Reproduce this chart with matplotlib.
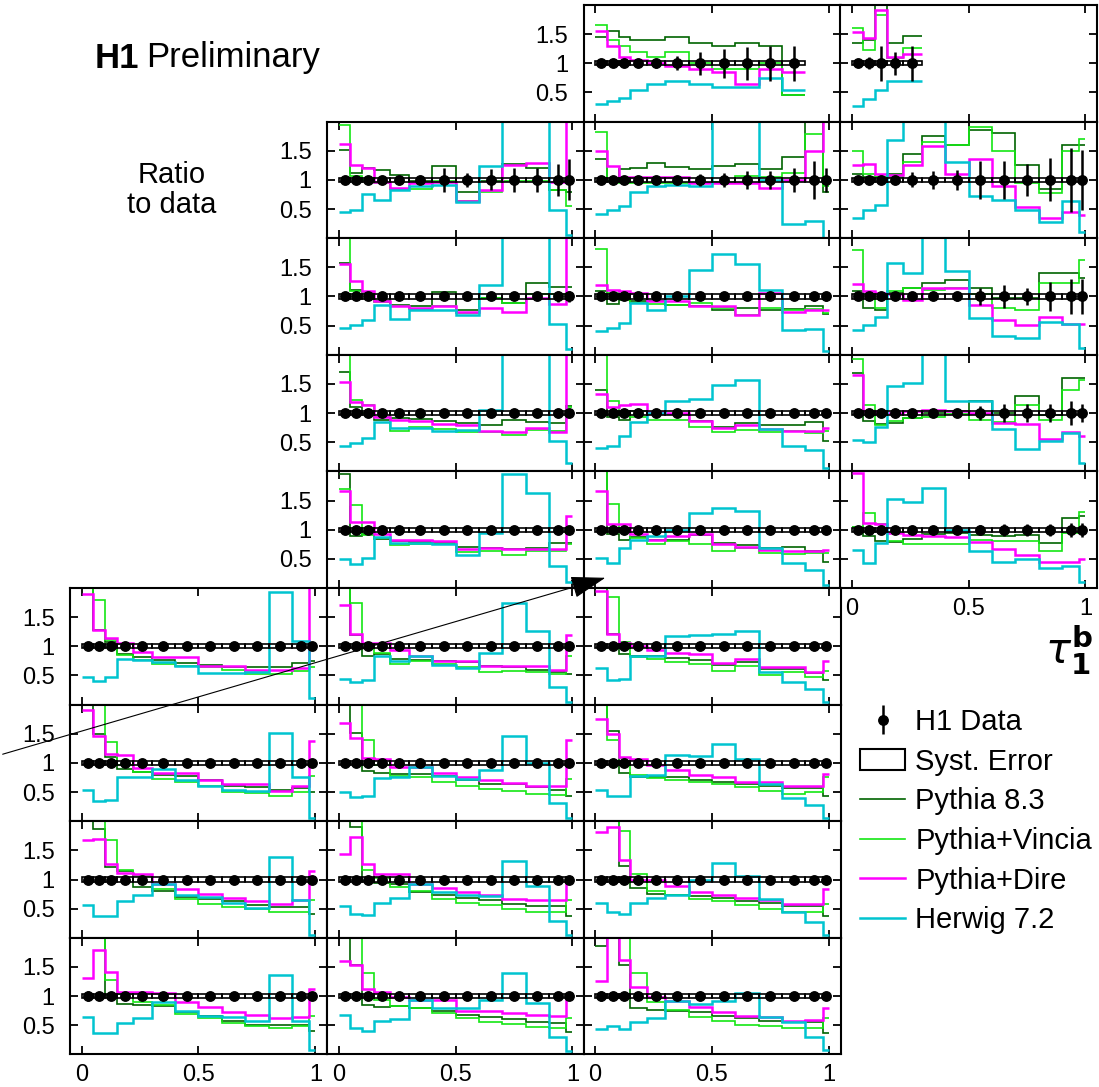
import matplotlib
matplotlib.use("Agg")
import matplotlib.pyplot as plt
from matplotlib.lines import Line2D
from matplotlib.patches import Patch, Rectangle, FancyArrowPatch

plt.rcParams['font.family'] = ['Liberation Sans', 'DejaVu Sans']

# bin edges in tau_1^b (same for every panel)
edges = [0, 0.05, 0.1, 0.15, 0.22, 0.3, 0.4, 0.5, 0.6, 0.7, 0.8, 0.9, 0.975, 1.0]
centers = [0.025, 0.075, 0.125, 0.185, 0.26, 0.35, 0.45, 0.55, 0.65, 0.75, 0.85, 0.9375, 0.9875]

# ratio MC / data for each panel: pNM = row N, column M
p13_err = [0.03, 0.03, 0.04, 0.05, 0.08, 0.12, 0.2, 0.25, 0.28, 0.3, 0.3]
p13_py8 = [1.45, 1.55, 1.45, 1.4, 1.4, 1.45, 1.35, 1.3, 1.35, 1.3, 0.45]
p13_vin = [1.65, 1.4, 1.3, 1.2, 1.1, 1.2, 1.0, 0.9, 0.9, 1.0, 0.45]
p13_dire = [1.55, 1.3, 1.1, 1.05, 1.0, 0.95, 0.9, 0.85, 0.65, 0.9, 0.85]
p13_hw = [0.3, 0.35, 0.4, 0.55, 0.65, 0.7, 0.65, 0.6, 0.6, 0.75, 0.55]

p14_err = [0.05, 0.1, 0.3, 0.2, 0.3]
p14_py8 = [1.34, 1.4, 2.3, 1.34, 1.46]
p14_vin = [1.6, 1.23, 1.83, 1.09, 1.26]
p14_dire = [1.53, 1.43, 1.91, 1.11, 1.16]
p14_hw = [0.26, 0.39, 0.54, 0.7, 0.7]

p22_err = [0.02, 0.02, 0.02, 0.03, 0.04, 0.05, 0.2, 0.12, 0.18, 0.2, 0.2, 0.28, 0.35]
p22_py8 = [1.52, 1.12, 1.2, 1.17, 1.09, 0.98, 1.23, 0.79, 0.98, 1.28, 1.2, 0.82, 0.8]
p22_vin = [1.95, 1.06, 1.0, 0.95, 0.85, 0.85, 0.98, 0.63, 0.79, 0.98, 0.98, 0.82, 0.55]
p22_dire = [1.62, 1.25, 1.2, 0.96, 0.86, 0.94, 0.96, 0.63, 0.83, 1.26, 1.29, 0.96, 2.3]
p22_hw = [0.45, 0.49, 0.75, 0.66, 0.82, 0.9, 0.92, 0.62, 1.23, 2.3, 2.3, 0.49, 0.05]

p23_err = [0.02, 0.02, 0.02, 0.03, 0.04, 0.06, 0.1, 0.12, 0.15, 0.15, 0.2, 0.33, 0.2]
p23_py8 = [1.36, 0.98, 1.19, 1.2, 1.29, 1.22, 1.19, 1.24, 1.27, 1.19, 1.4, 2.3, 0.8]
p23_vin = [1.83, 0.98, 0.95, 0.95, 0.95, 0.95, 0.95, 0.97, 1.06, 1.05, 1.12, 1.78, 0.9]
p23_dire = [1.5, 1.23, 1.05, 1.05, 1.05, 1.05, 0.95, 0.95, 0.95, 0.86, 1.0, 1.49, 2.3]
p23_hw = [0.41, 0.48, 0.55, 0.8, 0.89, 0.92, 0.9, 2.3, 2.3, 1.0, 0.25, 0.3, 0.0]

p24_err = [0.03, 0.04, 0.05, 0.06, 0.13, 0.15, 0.17, 0.33, 0.33, 0.27, 0.37, 0.55, 0.52]
p24_py8 = [1.1, 1.05, 1.05, 1.1, 1.45, 1.75, 1.6, 1.85, 1.8, 1.25, 0.85, 1.6, 1.6]
p24_vin = [1.5, 1.1, 1.05, 1.05, 1.3, 1.65, 1.6, 1.9, 1.5, 0.95, 0.78, 1.5, 1.7]
p24_dire = [1.26, 1.28, 1.1, 1.08, 1.26, 1.58, 1.1, 1.35, 0.9, 0.53, 0.35, 0.45, 0.4]
p24_hw = [0.35, 0.48, 0.57, 1.68, 2.3, 2.3, 1.3, 0.72, 0.66, 0.48, 0.27, 0.64, 0.1]

p32_err = [0.02, 0.02, 0.02, 0.02, 0.02, 0.03, 0.03, 0.03, 0.04, 0.05, 0.06, 0.1, 0.1]
p32_py8 = [1.57, 1.11, 1.07, 0.93, 0.86, 0.83, 1.07, 0.76, 0.97, 0.89, 1.24, 1.17, 1.17]
p32_vin = [2.3, 1.09, 1.06, 0.91, 0.83, 0.79, 0.83, 0.72, 0.97, 0.89, 1.05, 1.05, 1.0]
p32_dire = [1.55, 1.27, 1.09, 0.93, 0.83, 0.81, 0.84, 0.74, 0.8, 0.73, 0.97, 0.87, 2.3]
p32_hw = [0.46, 0.51, 0.6, 0.86, 0.62, 0.77, 0.77, 0.69, 1.2, 2.3, 2.3, 0.52, 0.1]

p33_err = [0.02, 0.02, 0.02, 0.02, 0.02, 0.02, 0.03, 0.03, 0.03, 0.04, 0.04, 0.08, 0.08]
p33_py8 = [1.09, 0.87, 0.94, 0.93, 0.93, 0.86, 0.83, 0.77, 0.81, 0.76, 0.79, 0.83, 0.7]
p33_vin = [1.82, 1.06, 1.03, 0.89, 0.87, 0.86, 0.89, 0.8, 0.69, 0.8, 0.77, 0.79, 0.72]
p33_dire = [1.2, 1.11, 1.09, 1.06, 0.93, 0.93, 0.83, 0.83, 0.69, 1.06, 0.74, 0.77, 0.77]
p33_hw = [0.4, 0.46, 0.55, 0.89, 0.76, 1.0, 1.45, 1.73, 1.55, 1.11, 0.43, 0.45, 0.06]

p34_err = [0.02, 0.02, 0.03, 0.04, 0.05, 0.06, 0.08, 0.15, 0.2, 0.15, 0.25, 0.3, 0.3]
p34_py8 = [1.09, 0.81, 0.76, 1.06, 1.14, 1.23, 1.28, 1.14, 0.97, 0.97, 1.4, 1.41, 1.31]
p34_vin = [1.8, 1.03, 0.8, 1.09, 1.14, 1.11, 1.14, 1.04, 0.8, 0.76, 1.23, 1.23, 1.63]
p34_dire = [1.21, 1.1, 1.06, 1.04, 0.94, 1.15, 1.14, 0.86, 0.6, 0.51, 0.64, 0.52, 0.52]
p34_hw = [0.42, 0.51, 0.64, 1.57, 1.4, 2.3, 1.43, 0.63, 0.32, 0.29, 0.57, 0.52, 0.12]

p42_err = [0.02, 0.02, 0.02, 0.02, 0.02, 0.02, 0.02, 0.02, 0.03, 0.03, 0.03, 0.05, 0.05]
p42_py8 = [1.71, 1.11, 1.0, 0.89, 0.92, 0.9, 0.87, 0.83, 0.79, 0.89, 0.85, 0.83, 1.13]
p42_vin = [2.3, 1.23, 1.14, 0.94, 0.7, 0.76, 0.73, 0.67, 0.67, 0.63, 0.71, 0.69, 1.1]
p42_dire = [1.53, 1.19, 1.14, 0.94, 0.89, 0.86, 0.81, 0.79, 0.7, 0.67, 0.74, 0.67, 2.3]
p42_hw = [0.43, 0.48, 0.58, 0.84, 0.75, 0.75, 0.7, 0.71, 1.06, 2.3, 2.3, 0.52, 0.14]

p43_err = [0.02, 0.02, 0.02, 0.02, 0.02, 0.02, 0.02, 0.02, 0.03, 0.05, 0.05, 0.06, 0.06]
p43_py8 = [1.4, 0.94, 0.89, 1.03, 0.98, 0.98, 0.86, 0.77, 0.83, 0.8, 0.79, 0.85, 0.52]
p43_vin = [2.3, 1.21, 0.97, 0.94, 0.89, 0.89, 0.77, 0.67, 0.71, 0.68, 0.7, 0.66, 0.7]
p43_dire = [1.32, 1.11, 1.14, 1.16, 1.02, 1.0, 0.87, 0.75, 0.8, 0.73, 0.7, 0.7, 0.75]
p43_hw = [0.4, 0.44, 0.6, 0.84, 1.0, 1.2, 1.24, 1.48, 1.57, 0.73, 0.44, 0.37, 0.05]

p44_err = [0.02, 0.02, 0.03, 0.03, 0.04, 0.05, 0.06, 0.12, 0.15, 0.15, 0.15, 0.2, 0.15]
p44_py8 = [1.69, 0.87, 0.81, 0.83, 0.92, 1.0, 1.03, 1.2, 1.0, 1.29, 0.97, 1.61, 1.61]
p44_vin = [1.92, 1.14, 0.8, 0.86, 0.92, 0.94, 0.98, 0.89, 0.84, 1.14, 0.89, 1.4, 1.56]
p44_dire = [1.65, 1.04, 1.0, 1.0, 1.04, 1.06, 1.04, 1.0, 0.83, 0.81, 0.55, 0.68, 0.6]
p44_hw = [0.54, 0.5, 0.77, 1.47, 1.52, 2.3, 1.2, 1.2, 0.73, 0.38, 0.52, 0.66, 0.14]

p52_err = [0.02, 0.02, 0.02, 0.02, 0.02, 0.02, 0.02, 0.02, 0.02, 0.02, 0.03, 0.03, 0.04]
p52_py8 = [1.95, 0.89, 0.93, 0.84, 0.81, 0.79, 0.77, 0.71, 0.68, 0.67, 0.68, 0.77, 0.77]
p52_vin = [1.69, 1.42, 0.91, 0.86, 0.73, 0.75, 0.75, 0.62, 0.63, 0.57, 0.63, 0.63, 0.75]
p52_dire = [1.67, 1.14, 1.13, 0.93, 0.83, 0.83, 0.81, 0.67, 0.68, 0.67, 0.67, 0.67, 1.23]
p52_hw = [0.5, 0.41, 0.52, 0.87, 0.77, 0.77, 0.75, 0.57, 0.94, 1.96, 1.63, 0.37, 0.11]

p53_err = [0.02, 0.02, 0.02, 0.02, 0.02, 0.02, 0.02, 0.02, 0.02, 0.02, 0.03, 0.04, 0.04]
p53_py8 = [2.3, 0.93, 0.83, 0.87, 0.83, 0.83, 0.91, 0.77, 0.74, 0.68, 0.71, 0.64, 0.45]
p53_vin = [2.3, 1.44, 1.03, 0.86, 0.75, 0.8, 0.75, 0.64, 0.68, 0.6, 0.58, 0.6, 0.6]
p53_dire = [1.66, 1.09, 1.1, 0.93, 0.83, 0.9, 0.93, 0.75, 0.71, 0.66, 0.63, 0.63, 0.66]
p53_hw = [0.51, 0.43, 0.68, 0.83, 0.9, 1.0, 1.29, 1.38, 1.32, 0.68, 0.43, 0.31, 0.05]

p54_err = [0.06, 0.02, 0.02, 0.03, 0.03, 0.04, 0.05, 0.08, 0.1, 0.1, 0.1, 0.12, 0.12]
p54_py8 = [1.05, 0.89, 0.81, 0.79, 0.84, 0.93, 0.94, 0.91, 0.89, 0.91, 0.77, 1.2, 1.23]
p54_vin = [1.05, 1.29, 1.09, 0.8, 0.75, 0.75, 0.75, 0.83, 0.8, 0.81, 0.63, 0.94, 1.3]
p54_dire = [1.97, 1.11, 1.09, 0.94, 0.91, 0.89, 0.87, 0.79, 0.67, 0.57, 0.44, 0.45, 0.5]
p54_hw = [0.66, 0.43, 0.77, 1.52, 1.48, 1.71, 1.0, 0.63, 0.45, 0.5, 0.34, 0.37, 0.11]

p61_err = [0.03, 0.02, 0.02, 0.02, 0.02, 0.02, 0.02, 0.02, 0.02, 0.02, 0.02, 0.02, 0.03]
p61_py8 = [2.3, 1.28, 1.07, 0.86, 0.81, 0.77, 0.71, 0.68, 0.64, 0.64, 0.65, 0.72, 0.75]
p61_vin = [2.3, 1.79, 1.1, 0.85, 0.77, 0.69, 0.66, 0.65, 0.59, 0.53, 0.53, 0.58, 0.65]
p61_dire = [1.9, 1.28, 1.15, 1.06, 0.9, 0.82, 0.81, 0.66, 0.66, 0.6, 0.6, 0.62, 2.3]
p61_hw = [0.47, 0.4, 0.47, 0.79, 0.77, 0.73, 0.66, 0.55, 0.55, 0.56, 1.93, 1.09, 0.11]

p62_err = [0.03, 0.02, 0.02, 0.02, 0.02, 0.02, 0.02, 0.02, 0.02, 0.02, 0.02, 0.02, 0.03]
p62_py8 = [2.3, 1.2, 0.84, 0.86, 0.79, 0.77, 0.75, 0.73, 0.66, 0.64, 0.6, 0.56, 0.52]
p62_vin = [2.3, 1.75, 0.97, 0.89, 0.7, 0.75, 0.7, 0.64, 0.56, 0.58, 0.56, 0.52, 0.83]
p62_dire = [1.71, 1.21, 1.06, 1.06, 0.94, 0.83, 0.75, 0.75, 0.67, 0.67, 0.66, 0.6, 1.19]
p62_hw = [0.44, 0.39, 0.43, 0.84, 0.74, 0.83, 0.68, 0.63, 0.89, 1.75, 1.26, 0.31, 0.05]

p63_err = [0.03, 0.02, 0.02, 0.02, 0.02, 0.02, 0.02, 0.02, 0.02, 0.02, 0.02, 0.02, 0.03]
p63_py8 = [2.3, 1.21, 0.86, 0.84, 0.83, 0.8, 0.77, 0.68, 0.73, 0.61, 0.61, 0.54, 0.43]
p63_vin = [2.3, 1.84, 1.07, 0.81, 0.79, 0.73, 0.7, 0.58, 0.66, 0.51, 0.56, 0.48, 0.57]
p63_dire = [1.95, 1.21, 1.06, 1.0, 0.94, 0.89, 0.86, 0.71, 0.79, 0.64, 0.64, 0.56, 0.75]
p63_hw = [0.63, 0.43, 0.44, 0.84, 0.83, 1.17, 1.2, 1.21, 1.26, 0.56, 0.39, 0.27, 0.05]

p71_err = [0.03, 0.02, 0.02, 0.02, 0.02, 0.02, 0.02, 0.02, 0.02, 0.02, 0.02, 0.02, 0.03]
p71_py8 = [2.3, 1.49, 1.1, 0.9, 0.84, 0.8, 0.77, 0.7, 0.61, 0.59, 0.54, 0.57, 0.5]
p71_vin = [2.3, 2.3, 1.36, 0.96, 0.84, 0.73, 0.67, 0.6, 0.5, 0.48, 0.43, 0.5, 0.77]
p71_dire = [1.91, 1.46, 1.16, 1.13, 0.92, 0.83, 0.83, 0.71, 0.64, 0.63, 0.52, 0.6, 1.38]
p71_hw = [0.54, 0.34, 0.37, 0.75, 0.76, 0.89, 0.7, 0.61, 0.53, 0.52, 1.51, 0.76, 0.06]

p72_err = [0.03, 0.02, 0.02, 0.02, 0.02, 0.02, 0.02, 0.02, 0.02, 0.02, 0.02, 0.02, 0.03]
p72_py8 = [2.3, 1.52, 0.86, 0.83, 0.81, 0.81, 0.77, 0.7, 0.64, 0.63, 0.58, 0.54, 0.44]
p72_vin = [2.3, 2.3, 1.39, 0.97, 0.77, 0.75, 0.68, 0.6, 0.56, 0.52, 0.47, 0.45, 0.72]
p72_dire = [1.69, 1.42, 1.09, 1.07, 0.93, 0.93, 0.83, 0.75, 0.7, 0.66, 0.61, 0.6, 1.4]
p72_hw = [0.5, 0.41, 0.43, 0.74, 0.75, 0.93, 0.77, 0.73, 0.87, 1.46, 1.0, 0.31, 0.05]

p73_err = [0.03, 0.02, 0.02, 0.02, 0.02, 0.02, 0.02, 0.02, 0.02, 0.02, 0.02, 0.02, 0.03]
p73_py8 = [2.3, 1.55, 0.83, 0.75, 0.75, 0.75, 0.71, 0.68, 0.64, 0.6, 0.57, 0.57, 0.43]
p73_vin = [2.3, 1.4, 1.09, 0.8, 0.74, 0.7, 0.67, 0.64, 0.58, 0.52, 0.47, 0.5, 0.75]
p73_dire = [1.75, 1.49, 1.1, 1.06, 0.96, 0.87, 0.8, 0.75, 0.68, 0.67, 0.6, 0.6, 0.81]
p73_hw = [0.54, 0.43, 0.43, 0.77, 0.79, 1.13, 1.11, 1.32, 1.07, 0.63, 0.4, 0.28, 0.05]

p81_err = [0.05, 0.02, 0.02, 0.02, 0.02, 0.02, 0.02, 0.02, 0.02, 0.02, 0.02, 0.02, 0.03]
p81_py8 = [2.3, 1.86, 1.21, 1.14, 0.87, 0.81, 0.7, 0.67, 0.63, 0.57, 0.52, 0.52, 0.41]
p81_vin = [2.3, 2.3, 1.67, 1.17, 1.06, 0.83, 0.66, 0.58, 0.52, 0.5, 0.44, 0.45, 0.65]
p81_dire = [1.67, 1.69, 1.26, 1.11, 1.09, 0.93, 0.83, 0.75, 0.68, 0.63, 0.58, 0.64, 1.14]
p81_hw = [0.57, 0.37, 0.37, 0.63, 0.73, 0.92, 0.73, 0.7, 0.59, 0.51, 1.39, 0.64, 0.05]

p82_err = [0.04, 0.02, 0.02, 0.02, 0.02, 0.02, 0.02, 0.02, 0.02, 0.02, 0.02, 0.02, 0.03]
p82_py8 = [2.3, 1.9, 0.98, 0.94, 0.92, 0.79, 0.73, 0.68, 0.64, 0.58, 0.54, 0.54, 0.38]
p82_vin = [2.3, 2.3, 1.17, 1.03, 0.87, 0.81, 0.66, 0.6, 0.56, 0.5, 0.44, 0.44, 0.65]
p82_dire = [1.44, 1.73, 1.26, 1.09, 1.09, 0.92, 0.85, 0.79, 0.73, 0.67, 0.64, 0.64, 0.98]
p82_hw = [0.54, 0.41, 0.39, 0.6, 0.68, 0.92, 0.79, 0.73, 0.71, 1.32, 0.89, 0.29, 0.05]

p83_err = [0.04, 0.02, 0.02, 0.02, 0.02, 0.02, 0.02, 0.02, 0.02, 0.02, 0.02, 0.02, 0.03]
p83_py8 = [2.3, 2.3, 1.23, 0.86, 0.75, 0.73, 0.71, 0.68, 0.63, 0.6, 0.54, 0.54, 0.38]
p83_vin = [2.3, 2.3, 1.84, 1.1, 0.81, 0.73, 0.67, 0.63, 0.56, 0.5, 0.44, 0.44, 0.58]
p83_dire = [1.82, 1.9, 1.33, 1.0, 1.0, 0.89, 0.79, 0.73, 0.68, 0.64, 0.58, 0.58, 0.83]
p83_hw = [0.6, 0.44, 0.4, 0.6, 0.68, 0.73, 1.0, 1.29, 1.06, 0.66, 0.44, 0.27, 0.05]

p91_err = [0.08, 0.03, 0.02, 0.02, 0.02, 0.02, 0.02, 0.02, 0.02, 0.02, 0.02, 0.02, 0.03]
p91_py8 = [2.3, 2.3, 1.02, 0.86, 0.85, 0.83, 0.73, 0.66, 0.58, 0.51, 0.51, 0.51, 0.4]
p91_vin = [2.3, 2.3, 1.28, 1.03, 0.9, 0.85, 0.69, 0.62, 0.54, 0.49, 0.45, 0.48, 0.66]
p91_dire = [1.31, 1.79, 1.41, 1.07, 1.07, 1.06, 0.9, 0.81, 0.72, 0.68, 0.62, 0.64, 1.13]
p91_hw = [0.64, 0.37, 0.36, 0.54, 0.62, 0.9, 0.75, 0.66, 0.64, 0.58, 1.37, 0.58, 0.08]

p92_err = [0.05, 0.02, 0.02, 0.02, 0.02, 0.02, 0.02, 0.02, 0.02, 0.02, 0.02, 0.02, 0.03]
p92_py8 = [2.3, 1.54, 0.84, 0.81, 0.83, 0.79, 0.74, 0.67, 0.64, 0.6, 0.56, 0.54, 0.39]
p92_vin = [2.3, 2.3, 1.4, 0.93, 0.83, 0.79, 0.71, 0.62, 0.56, 0.52, 0.47, 0.45, 0.62]
p92_dire = [1.61, 1.54, 1.13, 1.07, 0.98, 0.94, 0.93, 0.75, 0.74, 0.71, 0.67, 0.66, 1.04]
p92_hw = [0.68, 0.45, 0.4, 0.58, 0.6, 0.94, 0.8, 0.79, 0.94, 1.4, 0.89, 0.29, 0.05]

p93_err = [0.08, 0.03, 0.02, 0.02, 0.02, 0.02, 0.02, 0.02, 0.02, 0.02, 0.02, 0.02, 0.03]
p93_py8 = [1.86, 2.3, 1.53, 0.8, 0.76, 0.75, 0.72, 0.66, 0.62, 0.58, 0.55, 0.55, 0.36]
p93_vin = [2.3, 2.3, 2.3, 1.4, 0.9, 0.76, 0.64, 0.58, 0.51, 0.49, 0.45, 0.45, 0.62]
p93_dire = [1.26, 2.3, 1.62, 1.15, 0.98, 0.92, 0.82, 0.72, 0.66, 0.64, 0.58, 0.59, 0.79]
p93_hw = [0.44, 0.49, 0.44, 0.56, 0.62, 0.92, 0.86, 0.92, 1.06, 0.64, 0.55, 0.3, 0.08]

syst = 0.035

models = ['Pythia 8.3', 'Pythia+Vincia', 'Pythia+Dire', 'Herwig 7.2']
colors = ['#006400', '#14e614', '#ff00ff', '#00c4d0']
widths = [1.2, 1.2, 1.8, 1.8]

# (row, col, err, py8, vincia, dire, herwig)
panels = [
    (0, 2, p13_err, p13_py8, p13_vin, p13_dire, p13_hw),
    (0, 3, p14_err, p14_py8, p14_vin, p14_dire, p14_hw),
    (1, 1, p22_err, p22_py8, p22_vin, p22_dire, p22_hw),
    (1, 2, p23_err, p23_py8, p23_vin, p23_dire, p23_hw),
    (1, 3, p24_err, p24_py8, p24_vin, p24_dire, p24_hw),
    (2, 1, p32_err, p32_py8, p32_vin, p32_dire, p32_hw),
    (2, 2, p33_err, p33_py8, p33_vin, p33_dire, p33_hw),
    (2, 3, p34_err, p34_py8, p34_vin, p34_dire, p34_hw),
    (3, 1, p42_err, p42_py8, p42_vin, p42_dire, p42_hw),
    (3, 2, p43_err, p43_py8, p43_vin, p43_dire, p43_hw),
    (3, 3, p44_err, p44_py8, p44_vin, p44_dire, p44_hw),
    (4, 1, p52_err, p52_py8, p52_vin, p52_dire, p52_hw),
    (4, 2, p53_err, p53_py8, p53_vin, p53_dire, p53_hw),
    (4, 3, p54_err, p54_py8, p54_vin, p54_dire, p54_hw),
    (5, 0, p61_err, p61_py8, p61_vin, p61_dire, p61_hw),
    (5, 1, p62_err, p62_py8, p62_vin, p62_dire, p62_hw),
    (5, 2, p63_err, p63_py8, p63_vin, p63_dire, p63_hw),
    (6, 0, p71_err, p71_py8, p71_vin, p71_dire, p71_hw),
    (6, 1, p72_err, p72_py8, p72_vin, p72_dire, p72_hw),
    (6, 2, p73_err, p73_py8, p73_vin, p73_dire, p73_hw),
    (7, 0, p81_err, p81_py8, p81_vin, p81_dire, p81_hw),
    (7, 1, p82_err, p82_py8, p82_vin, p82_dire, p82_hw),
    (7, 2, p83_err, p83_py8, p83_vin, p83_dire, p83_hw),
    (8, 0, p91_err, p91_py8, p91_vin, p91_dire, p91_hw),
    (8, 1, p92_err, p92_py8, p92_vin, p92_dire, p92_hw),
    (8, 2, p93_err, p93_py8, p93_vin, p93_dire, p93_hw),
]

W, H = 1099, 1087
fig = plt.figure(figsize=(W / 100, H / 100), dpi=100)

col_left = [70, 327, 583.5, 840]
col_w = 257
row_top0 = 5
row_h = 116.6
first_col = {0: 2, 1: 1, 2: 1, 3: 1, 4: 1, 5: 0, 6: 0, 7: 0, 8: 0}

data_handle = None
for row, col, err, *ratios in panels:
    top = row_top0 + row * row_h
    ax = fig.add_axes([col_left[col] / W, 1 - (top + row_h) / H, col_w / W, row_h / H])
    n = len(err)
    e = edges[:n + 1]
    for vals, c, lw in zip(ratios, colors, widths):
        ax.stairs(vals, e, color=c, lw=lw, baseline=None, zorder=2)
    for i in range(n):
        ax.add_patch(Rectangle((e[i], 1 - syst), e[i + 1] - e[i], 2 * syst,
                               fill=False, edgecolor='k', lw=1.2, zorder=3))
    data_handle = ax.errorbar(centers[:n], [1] * n, yerr=err, fmt='o', color='k',
                              ms=6.8, elinewidth=1.8, capsize=0, zorder=4)
    ax.set_xlim(-0.05, 1.05)
    ax.set_ylim(0, 2)
    ax.set_xticks([0, 0.5, 1])
    ax.set_xticklabels(['0', '0.5', '1'])
    ax.set_yticks([0.5, 1, 1.5])
    ax.set_yticklabels(['0.5', '1', '1.5'])
    ax.tick_params(direction='in', length=6, width=1.3, top=True, right=True,
                   labelsize=17)
    ax.tick_params(axis='y', pad=11)
    ax.tick_params(axis='x', pad=7)
    if col != first_col[row]:
        ax.tick_params(labelleft=False)
    if not (row == 8 or (row == 4 and col == 3)):
        ax.tick_params(labelbottom=False)
    for s in ax.spines.values():
        s.set_linewidth(1.5)

fig.text(95 / W, 1 - 58 / H, 'H1', fontsize=25, fontweight='bold', va='center')
fig.text(146 / W, 1 - 58 / H, 'Preliminary', fontsize=25, va='center')
fig.text(172 / W, 1 - 190 / H, 'Ratio\nto data', fontsize=21, ha='center',
         va='center', linespacing=1.1)
fig.text(1094 / W, 1 - 650 / H, r'$\tau^{\mathbf{b}}_{\mathbf{1}}$', fontsize=30,
         ha='right', va='center')

handles = [data_handle,
           Patch(facecolor='white', edgecolor='k', lw=1.5)]
handles += [Line2D([], [], color=c, lw=lw) for c, lw in zip(colors, widths)]
labels = ['H1 Data', 'Syst. Error'] + models
fig.legend(handles, labels, loc='upper left', bbox_to_anchor=(860 / W, 1 - 708 / H),
           frameon=False, fontsize=21, handlelength=1.55, handletextpad=0.35,
           labelspacing=0.4, borderpad=0, borderaxespad=0)

arrow = FancyArrowPatch((0, 1 - 755 / H), (608 / W, 1 - 577 / H),
                        transform=fig.transFigure,
                        arrowstyle='-|>,head_length=1.1,head_width=0.35',
                        mutation_scale=20, lw=0.8, color='k', zorder=20)
fig.add_artist(arrow)

fig.savefig('out.png', dpi=100)
